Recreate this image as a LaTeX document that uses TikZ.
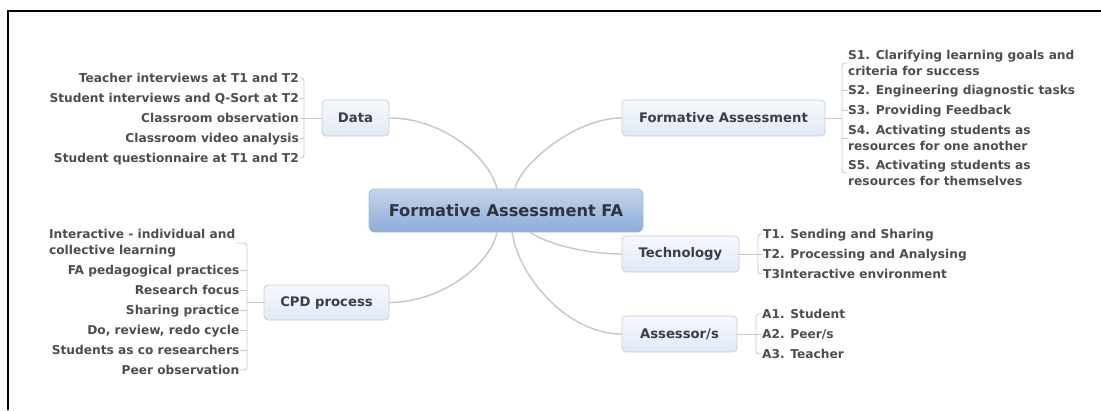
\documentclass[tikz,border=0pt]{standalone}
\usepackage{fontspec}
\setmainfont{DejaVu Sans}
\definecolor{leaftext}{HTML}{4D4D4D}
\definecolor{boxtext}{HTML}{3A3F47}
\definecolor{boxborder}{HTML}{C5CFDD}
\definecolor{boxtop}{HTML}{F6F9FD}
\definecolor{boxbot}{HTML}{E1E9F5}
\definecolor{roottop}{HTML}{C4D5EC}
\definecolor{rootbot}{HTML}{8CACD9}
\definecolor{rootborder}{HTML}{A3BAD9}
\definecolor{roottext}{HTML}{2F343C}
\definecolor{conncol}{HTML}{C6C6C6}
\definecolor{brkcol}{HTML}{C9C9C9}
\begin{document}
\begin{tikzpicture}[x=1pt,y=-1pt,
  leaf/.style={font=\fontsize{12.2}{15.5}\selectfont\bfseries, text=leaftext, inner xsep=0.5pt, inner ysep=0pt},
  leafone/.style={leaf, text height=9pt, text depth=0.5pt},
  leafmulti/.style={leaf, align=left},
  topic/.style={draw=boxborder, line width=0.8pt, rounded corners=4pt, top color=boxtop, bottom color=boxbot,
    font=\fontsize{13.2}{15}\selectfont\bfseries, text=boxtext, minimum height=36pt, inner sep=0pt},
  conn/.style={draw=conncol, line width=1.4pt},
  brk/.style={draw=brkcol, line width=0.9pt, rounded corners=3pt}]
\useasboundingbox (0,0) rectangle (1101,410);
% frame
\draw[line width=1.2pt] (8,410) -- (8,11) -- (1101,11);
% root
\node[draw=rootborder, line width=0.8pt, rounded corners=5pt, top color=roottop, bottom color=rootbot,
  minimum width=274pt, minimum height=43pt, inner sep=0pt,
  font=\fontsize{16.2}{18}\selectfont\bfseries, text=roottext] (root) at (506,210.5) {Formative Assessment FA};
% topics
\node[topic, minimum width=67pt] (data) at (355.5,118) {Data};
\node[topic, minimum width=203pt] (fa) at (723.5,118) {Formative Assessment};
\node[topic, minimum width=117pt] (tech) at (680.5,254) {Technology};
\node[topic, minimum width=115pt] (ass) at (679.5,334) {Assessor/s};
\node[topic, minimum width=125pt, minimum height=35pt] (cpd) at (326.5,302.5) {CPD process};
% main connectors
\draw[conn] (data.east) .. controls +(51,0) and +(-9,-34) .. ([xshift=-9pt]root.north);
\draw[conn] ([xshift=9pt]root.north) .. controls +(5,-24) and +(-47,0) .. (fa.west);
\draw[conn] ([xshift=-9pt]root.south) .. controls +(-7,33) and +(51,0) .. (cpd.east);
\draw[conn] ([xshift=6pt]root.south) .. controls +(8,48) and +(-52,0) .. (ass.west);
\draw[conn] ([xshift=24pt]root.south) .. controls +(20,13) and +(-32,0) .. (tech.west);
% Data leaves
\node[leafone, anchor=east] (d1) at (299.5,78) {Teacher interviews at T1 and T2};
\node[leafone, anchor=east] (d2) at (299.5,98) {Student interviews and Q-Sort at T2};
\node[leafone, anchor=east] (d3) at (299.5,118) {Classroom observation\ };
\node[leafone, anchor=east] (d4) at (299.5,138) {Classroom video analysis};
\node[leafone, anchor=east] (d5) at (299.5,158) {Student questionnaire at T1 and T2};
\coordinate (db) at (304,118);
\draw[brk] (d1.east) -| (db) |- (d5.east);
\foreach \n in {d2,d3,d4} \draw[brk] (\n.east) -- (\n.east -| db);
\draw[brk] (data.west) -- (data.west -| db);
% FA leaves
\node[leafmulti, anchor=west] (s1) at (847.5,63) {S1. Clarifying learning goals and\\criteria for success};
\node[leafone, anchor=west] (s2) at (847.5,90) {S2. Engineering diagnostic tasks};
\node[leafone, anchor=west] (s3) at (847.5,110) {S3. Providing Feedback};
\node[leafmulti, anchor=west] (s4) at (847.5,138) {S4. Activating students as\\resources for one another};
\node[leafmulti, anchor=west] (s5) at (847.5,173) {S5. Activating students as\\resources for themselves};
\coordinate (sb) at (842,118);
\draw[brk] (s1.west) -| (sb) |- (s5.west);
\foreach \n in {s2,s3,s4} \draw[brk] (\n.west) -- (\n.west -| sb);
\draw[brk] (fa.east) -- (fa.east -| sb);
% Technology leaves
\node[leafone, anchor=west] (t1) at (762.5,234) {T1. Sending and Sharing};
\node[leafone, anchor=west] (t2) at (762.5,254) {T2. Processing and Analysing};
\node[leafone, anchor=west] (t3) at (762.5,274) {T3Interactive environment};
\coordinate (tb) at (758,254);
\draw[brk] (t1.west) -| (tb) |- (t3.west);
\draw[brk] (tech.east) -- (t2.west);
% Assessor leaves
\node[leafone, anchor=west] (a1) at (761.5,314) {A1. Student};
\node[leafone, anchor=west] (a2) at (761.5,334) {A2. Peer/s};
\node[leafone, anchor=west] (a3) at (761.5,354) {A3. Teacher};
\coordinate (ab) at (756,334);
\draw[brk] (a1.west) -| (ab) |- (a3.west);
\draw[brk] (ass.east) -- (a2.west);
% CPD leaves
\node[leafmulti, anchor=east] (c1) at (236,243) {Interactive - individual and\\collective learning};
\node[leafone, anchor=east] (c2) at (240,270) {FA pedagogical practices};
\node[leafone, anchor=east] (c3) at (240,290) {Research focus};
\node[leafone, anchor=east] (c4) at (240,310) {Sharing practice};
\node[leafone, anchor=east] (c5) at (240,330) {Do, review, redo cycle};
\node[leafone, anchor=east] (c6) at (240,350) {Students as co researchers};
\node[leafone, anchor=east] (c7) at (240,370) {Peer observation\ };
\coordinate (cb) at (247,302.5);
\draw[brk] (c1.east) -| (cb) |- (c7.east);
\foreach \n in {c2,c3,c4,c5,c6} \draw[brk] (\n.east) -- (\n.east -| cb);
\draw[brk] (cpd.west) -- (cpd.west -| cb);
\end{tikzpicture}
\end{document}
